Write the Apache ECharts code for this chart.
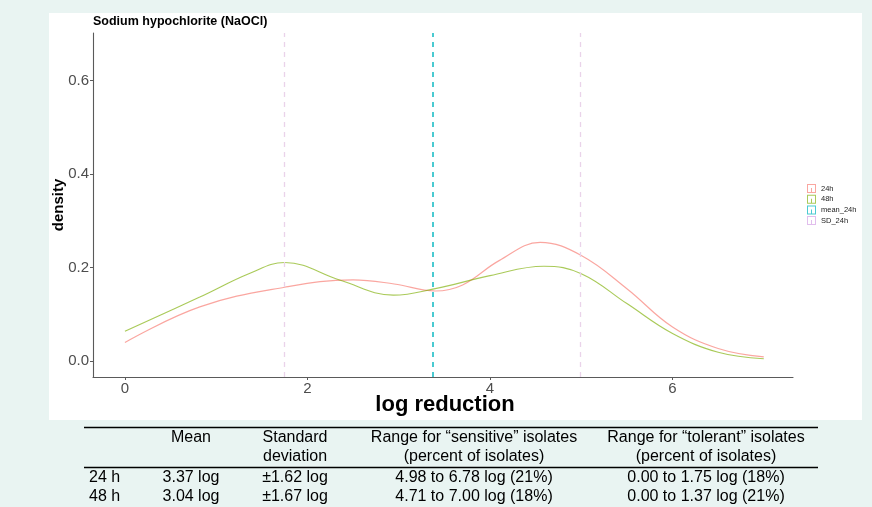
<!DOCTYPE html>
<html>
<head>
<meta charset="utf-8">
<script src="https://cdn.jsdelivr.net/npm/echarts@6/dist/echarts.min.js"></script>
<style>
html,body{margin:0;padding:0;background:#e9f4f2;}
#chart{width:872px;height:507px;}
</style>
</head>
<body>
<div id="chart"></div>
<script>
// ---- data ----
var titleText = 'Sodium hypochlorite (NaOCl)';
var xTicks = [0, 2, 4, 6];
var yTicks = [0, 0.2, 0.4, 0.6];
var seriesNames = ['24h', '48h', 'mean_24h', 'SD_24h'];
// density curve 24h: [log reduction, density]
var density24 = [[0,0.040],[0.82,0.116],[1.75,0.158],[2.5,0.174],[2.95,0.165],[3.4,0.150],[3.7,0.163],[4.1,0.215],[4.55,0.254],[5.0,0.226],[5.5,0.155],[6.0,0.073],[6.5,0.027],[7.0,0.009]];
// density curve 48h
var density48 = [[0,0.064],[0.82,0.137],[1.37,0.188],[1.75,0.211],[2.36,0.173],[2.94,0.141],[3.4,0.155],[4.0,0.183],[4.59,0.203],[5.0,0.187],[5.5,0.123],[6.0,0.059],[6.5,0.019],[7.0,0.005]];
var mean24 = 3.37;
var sd24 = 1.62;
// table
var tableHead1 = ['', 'Mean', 'Standard', 'Range for \u201csensitive\u201d isolates', 'Range for \u201ctolerant\u201d isolates'];
var tableHead2 = ['', '', 'deviation', '(percent of isolates)', '(percent of isolates)'];
var tableRow24 = ['24 h', '3.37 log', '\u00b11.62 log', '4.98 to 6.78 log (21%)', '0.00 to 1.75 log (18%)'];
var tableRow48 = ['48 h', '3.04 log', '\u00b11.67 log', '4.71 to 7.00 log (18%)', '0.00 to 1.37 log (21%)'];

// ---- chart ----
var FONT = 'Liberation Sans, Arial, Helvetica, sans-serif';
var chart = echarts.init(document.getElementById('chart'));
var colX = [89, 191, 295, 474, 706];
var colAlign = ['left', 'center', 'center', 'center', 'center'];
var rowY = [437.5, 456.5, 478, 496.5];
var tableRows = [tableHead1, tableHead2, tableRow24, tableRow48];

var graphics = [
  {type:'rect', z:-10, silent:true, shape:{x:49,y:13,width:813,height:407}, style:{fill:'#ffffff'}},
  {type:'text', x:59, y:205, rotation:Math.PI/2, silent:true,
   style:{text:'density', font:'bold 15px ' + FONT, fill:'#000', align:'center', verticalAlign:'middle'}},
  {type:'text', x:445, y:405, silent:true,
   style:{text:'log reduction', font:'bold 22px ' + FONT, fill:'#000', align:'center', verticalAlign:'middle'}},
  {type:'line', silent:true, shape:{x1:84,y1:427.5,x2:818,y2:427.5}, style:{stroke:'#000', lineWidth:1.3}},
  {type:'line', silent:true, shape:{x1:84,y1:467.5,x2:818,y2:467.5}, style:{stroke:'#000', lineWidth:1.3}}
];
tableRows.forEach(function(row, r){
  row.forEach(function(cell, c){
    if (!cell) return;
    graphics.push({type:'text', x:colX[c], y:rowY[r], silent:true,
      style:{text:cell, font:'16px ' + FONT, fill:'#000', align:colAlign[c], verticalAlign:'middle'}});
  });
});

var keyIcon = 'path://M0,0 H9 V9 H0 Z M1,1 V8 H8 V1 Z M4,4 H5 V9 H4 Z';

var option = {
  backgroundColor: '#e9f4f2',
  animation: false,
  textStyle: {fontFamily: FONT},
  title: {
    text: titleText, left: 93, top: 15,
    textStyle: {fontSize: 12.5, fontWeight: 'bold', color: '#000', fontFamily: FONT},
    padding: 0
  },
  legend: {
    orient: 'vertical', left: 807, top: 184, padding: 0,
    itemWidth: 9, itemHeight: 9, itemGap: 1.7,
    icon: keyIcon,
    data: seriesNames,
    textStyle: {fontSize: 7.5, color: '#222', fontFamily: FONT}
  },
  grid: {left: 93, right: 79, top: 33, bottom: 130, containLabel: false},
  xAxis: {
    type: 'value', min: -0.35, max: 7.32,
    axisLine: {show: true, onZero: false, lineStyle: {color: '#5a5a5a', width: 1.1}},
    axisTick: {show: true, length: 3, customValues: xTicks, lineStyle: {color: '#5a5a5a'}},
    axisLabel: {customValues: xTicks, margin: 4, fontSize: 15, color: '#4d4d4d', fontFamily: FONT},
    splitLine: {show: false}
  },
  yAxis: {
    type: 'value', min: -0.034, max: 0.702,
    axisLine: {show: true, onZero: false, lineStyle: {color: '#5a5a5a', width: 1.1}},
    axisTick: {show: true, length: 3, customValues: yTicks, lineStyle: {color: '#5a5a5a'}},
    axisLabel: {customValues: yTicks, margin: 4, fontSize: 15, color: '#4d4d4d', fontFamily: FONT,
      formatter: function(v){ return v.toFixed(1); }},
    splitLine: {show: false}
  },
  graphic: graphics,
  series: [
    {name: seriesNames[0], type: 'line', data: density24, smooth: 0.4, showSymbol: false,
     color: '#F8766D', lineStyle: {width: 1.2, opacity: 0.65}, itemStyle: {opacity: 0.65}},
    {name: seriesNames[1], type: 'line', data: density48, smooth: 0.4, showSymbol: false,
     color: '#7CAE00', lineStyle: {width: 1.2, opacity: 0.65}, itemStyle: {opacity: 0.65}},
    {name: seriesNames[2], type: 'line', data: [], color: '#1dbdc6',
     itemStyle: {opacity: 0.8},
     markLine: {silent: true, symbol: 'none', label: {show: false},
       lineStyle: {color: '#1dbdc6', width: 1.6, type: [5, 5]},
       data: [{xAxis: mean24}]}},
    {name: seriesNames[3], type: 'line', data: [], color: '#d9aee8',
     itemStyle: {opacity: 0.8},
     markLine: {silent: true, symbol: 'none', label: {show: false},
       lineStyle: {color: '#ead3ea', width: 1.3, type: [5, 5]},
       data: [{xAxis: mean24 - sd24}, {xAxis: mean24 + sd24}]}}
  ]
};
chart.setOption(option);
</script>
</body>
</html>
